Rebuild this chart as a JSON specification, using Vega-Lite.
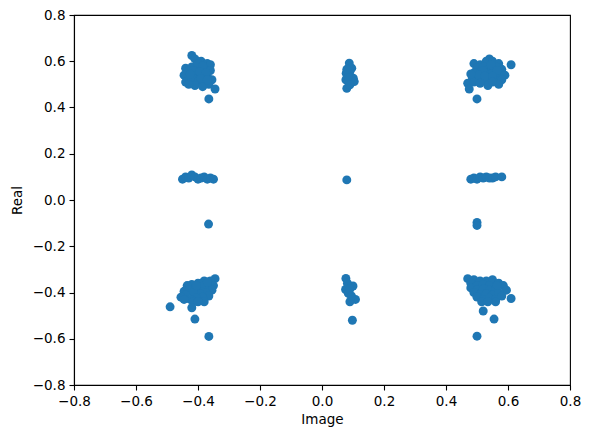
{
  "$schema": "https://vega.github.io/schema/vega-lite/v6.json",
  "width": 496,
  "height": 370,
  "autosize": {"type": "none"},
  "padding": {"left": 74, "top": 15, "right": 19, "bottom": 53},
  "background": "white",
  "config": {
    "view": {"stroke": "black", "strokeWidth": 1.1},
    "font": "DejaVu Sans"
  },
  "data": {
    "values": [
      {"im": -0.42, "re": 0.625}, {"im": -0.41, "re": 0.61}, {"im": -0.39, "re": 0.60}, {"im": -0.37, "re": 0.59}, {"im": -0.36, "re": 0.585},
      {"im": -0.44, "re": 0.57}, {"im": -0.43, "re": 0.56}, {"im": -0.42, "re": 0.575}, {"im": -0.40, "re": 0.57}, {"im": -0.38, "re": 0.565},
      {"im": -0.36, "re": 0.56}, {"im": -0.445, "re": 0.54}, {"im": -0.43, "re": 0.53}, {"im": -0.41, "re": 0.545}, {"im": -0.39, "re": 0.54},
      {"im": -0.37, "re": 0.535}, {"im": -0.355, "re": 0.52}, {"im": -0.44, "re": 0.51}, {"im": -0.42, "re": 0.52}, {"im": -0.40, "re": 0.51},
      {"im": -0.38, "re": 0.505}, {"im": -0.365, "re": 0.50}, {"im": -0.41, "re": 0.495}, {"im": -0.385, "re": 0.49}, {"im": -0.345, "re": 0.48},
      {"im": -0.365, "re": 0.437}, {"im": -0.40, "re": 0.59}, {"im": -0.385, "re": 0.58}, {"im": -0.415, "re": 0.56}, {"im": -0.395, "re": 0.555},
      {"im": -0.375, "re": 0.55}, {"im": -0.425, "re": 0.545}, {"im": -0.39, "re": 0.525}, {"im": -0.37, "re": 0.52}, {"im": -0.43, "re": 0.50},

      {"im": 0.54, "re": 0.61}, {"im": 0.53, "re": 0.60}, {"im": 0.55, "re": 0.60}, {"im": 0.49, "re": 0.59}, {"im": 0.51, "re": 0.585},
      {"im": 0.57, "re": 0.59}, {"im": 0.61, "re": 0.585}, {"im": 0.50, "re": 0.57}, {"im": 0.52, "re": 0.575}, {"im": 0.54, "re": 0.57},
      {"im": 0.56, "re": 0.575}, {"im": 0.58, "re": 0.565}, {"im": 0.49, "re": 0.55}, {"im": 0.51, "re": 0.55}, {"im": 0.53, "re": 0.545},
      {"im": 0.55, "re": 0.55}, {"im": 0.57, "re": 0.545}, {"im": 0.59, "re": 0.54}, {"im": 0.485, "re": 0.53}, {"im": 0.50, "re": 0.525},
      {"im": 0.52, "re": 0.52}, {"im": 0.54, "re": 0.52}, {"im": 0.56, "re": 0.525}, {"im": 0.58, "re": 0.52}, {"im": 0.47, "re": 0.505},
      {"im": 0.49, "re": 0.51}, {"im": 0.535, "re": 0.495}, {"im": 0.57, "re": 0.50}, {"im": 0.475, "re": 0.48}, {"im": 0.50, "re": 0.437},
      {"im": 0.52, "re": 0.56}, {"im": 0.545, "re": 0.585}, {"im": 0.565, "re": 0.56}, {"im": 0.505, "re": 0.54}, {"im": 0.525, "re": 0.535},
      {"im": 0.55, "re": 0.535}, {"im": 0.51, "re": 0.505}, {"im": 0.55, "re": 0.51}, {"im": 0.48, "re": 0.545},

      {"im": 0.088, "re": 0.592}, {"im": 0.096, "re": 0.57}, {"im": 0.078, "re": 0.548}, {"im": 0.09, "re": 0.555}, {"im": 0.101, "re": 0.527},
      {"im": 0.077, "re": 0.52}, {"im": 0.104, "re": 0.512}, {"im": 0.08, "re": 0.483}, {"im": 0.09, "re": 0.498}, {"im": 0.085, "re": 0.535},
      {"im": 0.08, "re": 0.565},

      {"im": 0.08, "re": 0.087},

      {"im": 0.077, "re": -0.339}, {"im": 0.1, "re": -0.372}, {"im": 0.076, "re": -0.387}, {"im": 0.085, "re": -0.404}, {"im": 0.108, "re": -0.43},
      {"im": 0.09, "re": -0.44}, {"im": 0.098, "re": -0.52}, {"im": 0.082, "re": -0.36}, {"im": 0.09, "re": -0.385}, {"im": 0.095, "re": -0.415},

      {"im": -0.45, "re": 0.09}, {"im": -0.44, "re": 0.10}, {"im": -0.43, "re": 0.095}, {"im": -0.42, "re": 0.108}, {"im": -0.41, "re": 0.10},
      {"im": -0.40, "re": 0.09}, {"im": -0.39, "re": 0.095}, {"im": -0.38, "re": 0.10}, {"im": -0.37, "re": 0.09}, {"im": -0.36, "re": 0.095},
      {"im": -0.35, "re": 0.09}, {"im": -0.366, "re": -0.104},

      {"im": 0.48, "re": 0.09}, {"im": 0.49, "re": 0.095}, {"im": 0.50, "re": 0.09}, {"im": 0.51, "re": 0.10}, {"im": 0.52, "re": 0.095},
      {"im": 0.53, "re": 0.10}, {"im": 0.54, "re": 0.095}, {"im": 0.55, "re": 0.095}, {"im": 0.56, "re": 0.10}, {"im": 0.58, "re": 0.10},
      {"im": 0.50, "re": -0.097}, {"im": 0.50, "re": -0.11},

      {"im": -0.345, "re": -0.34}, {"im": -0.36, "re": -0.35}, {"im": -0.38, "re": -0.35}, {"im": -0.40, "re": -0.36}, {"im": -0.42, "re": -0.365},
      {"im": -0.435, "re": -0.37}, {"im": -0.35, "re": -0.37}, {"im": -0.37, "re": -0.375}, {"im": -0.39, "re": -0.38}, {"im": -0.41, "re": -0.385},
      {"im": -0.43, "re": -0.39}, {"im": -0.445, "re": -0.395}, {"im": -0.355, "re": -0.39}, {"im": -0.375, "re": -0.40}, {"im": -0.395, "re": -0.405},
      {"im": -0.415, "re": -0.40}, {"im": -0.44, "re": -0.41}, {"im": -0.455, "re": -0.42}, {"im": -0.365, "re": -0.415}, {"im": -0.385, "re": -0.42},
      {"im": -0.405, "re": -0.425}, {"im": -0.425, "re": -0.43}, {"im": -0.445, "re": -0.43}, {"im": -0.38, "re": -0.44}, {"im": -0.415, "re": -0.44},
      {"im": -0.49, "re": -0.462}, {"im": -0.42, "re": -0.466}, {"im": -0.41, "re": -0.515}, {"im": -0.365, "re": -0.59},
      {"im": -0.39, "re": -0.36}, {"im": -0.405, "re": -0.37}, {"im": -0.37, "re": -0.355}, {"im": -0.40, "re": -0.44},

      {"im": 0.47, "re": -0.34}, {"im": 0.49, "re": -0.345}, {"im": 0.51, "re": -0.35}, {"im": 0.53, "re": -0.35}, {"im": 0.55, "re": -0.345},
      {"im": 0.48, "re": -0.36}, {"im": 0.50, "re": -0.37}, {"im": 0.52, "re": -0.365}, {"im": 0.54, "re": -0.37}, {"im": 0.57, "re": -0.36},
      {"im": 0.585, "re": -0.37}, {"im": 0.48, "re": -0.38}, {"im": 0.50, "re": -0.39}, {"im": 0.52, "re": -0.385}, {"im": 0.54, "re": -0.39},
      {"im": 0.56, "re": -0.385}, {"im": 0.595, "re": -0.39}, {"im": 0.49, "re": -0.40}, {"im": 0.51, "re": -0.41}, {"im": 0.53, "re": -0.405},
      {"im": 0.55, "re": -0.41}, {"im": 0.57, "re": -0.40}, {"im": 0.50, "re": -0.42}, {"im": 0.52, "re": -0.43}, {"im": 0.54, "re": -0.425},
      {"im": 0.56, "re": -0.43}, {"im": 0.515, "re": -0.44}, {"im": 0.56, "re": -0.44}, {"im": 0.61, "re": -0.426}, {"im": 0.52, "re": -0.48},
      {"im": 0.555, "re": -0.515}, {"im": 0.50, "re": -0.589}, {"im": 0.535, "re": -0.44}, {"im": 0.58, "re": -0.415}, {"im": 0.565, "re": -0.37}
    ]
  },
  "mark": {"type": "circle", "color": "#1f77b4", "opacity": 1, "size": 80},
  "encoding": {
    "x": {
      "field": "im", "type": "quantitative",
      "scale": {"domain": [-0.8, 0.8], "nice": false, "zero": false},
      "axis": {
        "title": "Image", "values": [-0.8, -0.6, -0.4, -0.2, 0.0, 0.2, 0.4, 0.6, 0.8],
        "format": ".1f", "labelExpr": "replace(datum.label, '-', '\u2212')",
        "labelOverlap": false, "labelFlush": false,
        "grid": false, "domainColor": "black", "domainWidth": 1.1,
        "tickColor": "black", "tickSize": 5, "tickWidth": 1.1,
        "labelFont": "DejaVu Sans", "labelFontSize": 13.5, "labelColor": "black", "labelPadding": 4,
        "titleFont": "DejaVu Sans", "titleFontSize": 13.5, "titleFontWeight": "normal", "titleColor": "black", "titlePadding": 5
      }
    },
    "y": {
      "field": "re", "type": "quantitative",
      "scale": {"domain": [-0.8, 0.8], "nice": false, "zero": false},
      "axis": {
        "title": "Real", "values": [-0.8, -0.6, -0.4, -0.2, 0.0, 0.2, 0.4, 0.6, 0.8],
        "format": ".1f", "labelExpr": "replace(datum.label, '-', '\u2212')",
        "labelOverlap": false, "labelFlush": false,
        "grid": false, "domainColor": "black", "domainWidth": 1.1,
        "tickColor": "black", "tickSize": 5, "tickWidth": 1.1,
        "labelFont": "DejaVu Sans", "labelFontSize": 13.5, "labelColor": "black", "labelPadding": 4,
        "titleFont": "DejaVu Sans", "titleFontSize": 13.5, "titleFontWeight": "normal", "titleColor": "black", "titlePadding": 8
      }
    }
  }
}
